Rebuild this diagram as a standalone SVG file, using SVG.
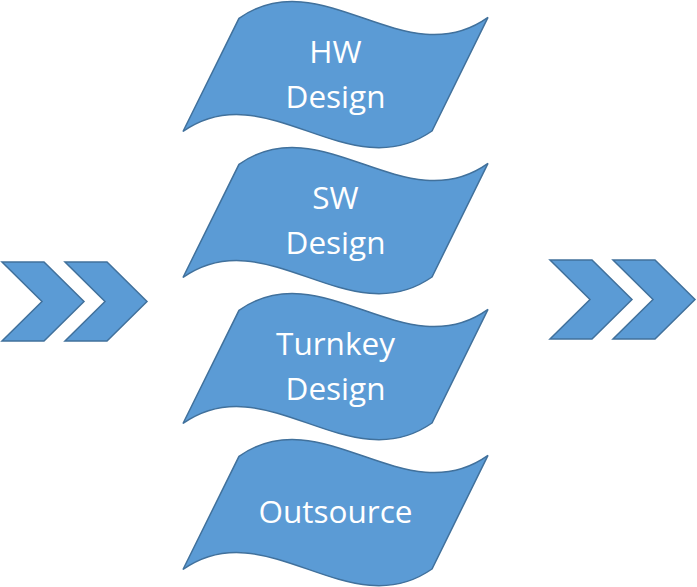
<svg xmlns="http://www.w3.org/2000/svg" xmlns:xlink="http://www.w3.org/1999/xlink" width="697" height="587" viewBox="0 0 697 587">
  <style>
    .shape { fill: #5B9BD5; stroke: #41719C; stroke-width: 1.5; stroke-linejoin: miter; }
    .label { fill: #FFFFFF; font-family: "Open Sans", "Noto Sans", "DejaVu Sans", sans-serif; font-size: 31.5px; text-anchor: middle; }
  </style>
  <defs>
    <path id="wave" d="M239,18.3 C322,-39.7 405,76.3 488,17.3 L432,131 C349,189 266,73 183,131.5 Z"/>
    <path id="chev" d="M0,0 L42,0 L82,39.5 L42,79 L0,79 L40,39.5 Z"/>
  </defs>
  <rect width="697" height="587" fill="#FFFFFF"/>
  <g id="connectors"></g>
  <g id="chevrons-left">
    <use xlink:href="#chev" href="#chev" class="shape" transform="translate(2,262)"/>
    <use xlink:href="#chev" href="#chev" class="shape" transform="translate(65,262)"/>
  </g>
  <g id="chevrons-right">
    <use xlink:href="#chev" href="#chev" class="shape" transform="translate(550,260)"/>
    <use xlink:href="#chev" href="#chev" class="shape" transform="translate(613,260)"/>
  </g>
  <g id="hw-design">
    <use xlink:href="#wave" href="#wave" class="shape"/>
    <text class="label" x="335.5" y="63">HW</text>
    <text class="label" x="335.5" y="108">Design</text>
  </g>
  <g id="sw-design" transform="translate(0,146)">
    <use xlink:href="#wave" href="#wave" class="shape"/>
    <text class="label" x="335.5" y="63">SW</text>
    <text class="label" x="335.5" y="108">Design</text>
  </g>
  <g id="turnkey-design" transform="translate(0,292)">
    <use xlink:href="#wave" href="#wave" class="shape"/>
    <text class="label" x="335.5" y="63">Turnkey</text>
    <text class="label" x="335.5" y="108">Design</text>
  </g>
  <g id="outsource" transform="translate(0,438)">
    <use xlink:href="#wave" href="#wave" class="shape"/>
    <text class="label" x="335.5" y="85">Outsource</text>
  </g>
</svg>
